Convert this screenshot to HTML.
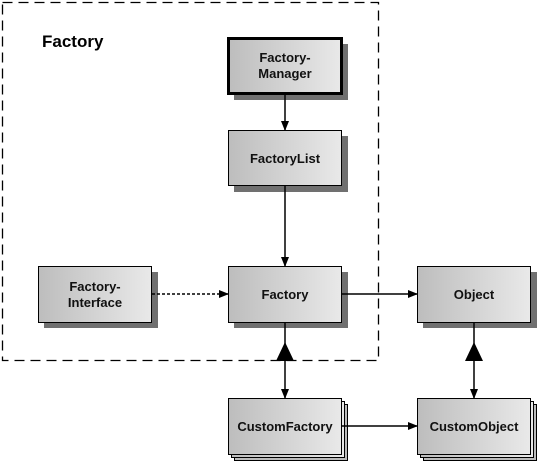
<!DOCTYPE html>
<html><head><style>
body{margin:0;background:#fff;}
svg{display:block;font-family:"Liberation Sans",sans-serif;font-weight:bold;}
</style></head><body>
<svg width="539" height="463" viewBox="0 0 539 463">
<defs>
<linearGradient id="g" x1="0" x2="1" y1="0" y2="0">
<stop offset="0" stop-color="#bdbdbd"/><stop offset="1" stop-color="#e9e9e9"/>
</linearGradient>
<marker id="a" markerWidth="10" markerHeight="8" refX="9" refY="4" orient="auto" markerUnits="userSpaceOnUse">
<path d="M0,0 L10,4 L0,8 Z" fill="#000"/></marker>
</defs>
<rect x="2.5" y="2.5" width="376" height="358" fill="none" stroke="#000" stroke-width="1.3" stroke-dasharray="10,6"/>
<text x="42" y="47" font-size="17">Factory</text>

<g fill="#707070">
<rect x="234" y="44" width="114" height="56"/>
<rect x="234" y="136" width="114" height="56"/>
<rect x="44" y="272" width="114" height="56"/>
<rect x="234" y="272" width="114" height="56"/>
<rect x="423" y="272" width="114" height="56"/>
</g>
<g fill="url(#g)" stroke="#000">
<rect x="234.5" y="404.5" width="113" height="56" fill="#bbb"/>
<rect x="231.5" y="401.5" width="113" height="56"/>
<rect x="423.5" y="404.5" width="113" height="56" fill="#bbb"/>
<rect x="420.5" y="401.5" width="113" height="56"/>
</g>
<g fill="url(#g)" stroke="#000">
<rect x="228.5" y="38.5" width="113" height="55" stroke-width="3"/>
<rect x="228.5" y="130.5" width="113" height="55"/>
<rect x="38.5" y="266.5" width="113" height="56"/>
<rect x="228.5" y="266.5" width="113" height="56"/>
<rect x="417.5" y="266.5" width="113" height="56"/>
<rect x="228.5" y="398.5" width="113" height="56"/>
<rect x="417.5" y="398.5" width="113" height="56"/>
</g>
<g font-size="13" text-anchor="middle" fill="#111">
<text x="285" y="62">Factory-</text><text x="285" y="78">Manager</text>
<text x="285" y="163">FactoryList</text>
<text x="95" y="291">Factory-</text><text x="95" y="307">Interface</text>
<text x="285" y="299">Factory</text>
<text x="474" y="299">Object</text>
<text x="285" y="431">CustomFactory</text>
<text x="474" y="431">CustomObject</text>
</g>
<g stroke="#000" stroke-width="1.5" fill="none">
<line x1="285" y1="95" x2="285" y2="130" marker-end="url(#a)"/>
<line x1="285" y1="186" x2="285" y2="266" marker-end="url(#a)"/>
<line x1="152" y1="294" x2="228" y2="294" stroke-dasharray="3,2" marker-end="url(#a)"/>
<line x1="342" y1="294" x2="417" y2="294" marker-end="url(#a)"/>
<line x1="342" y1="426" x2="417" y2="426" marker-end="url(#a)"/>
<line x1="285" y1="323" x2="285" y2="398" marker-end="url(#a)"/>
<line x1="474" y1="323" x2="474" y2="398" marker-end="url(#a)"/>
</g>
<path d="M285,342 L294,361 L276,361 Z" fill="#000"/>
<path d="M474,342 L483,361 L465,361 Z" fill="#000"/>
</svg>
</body></html>
